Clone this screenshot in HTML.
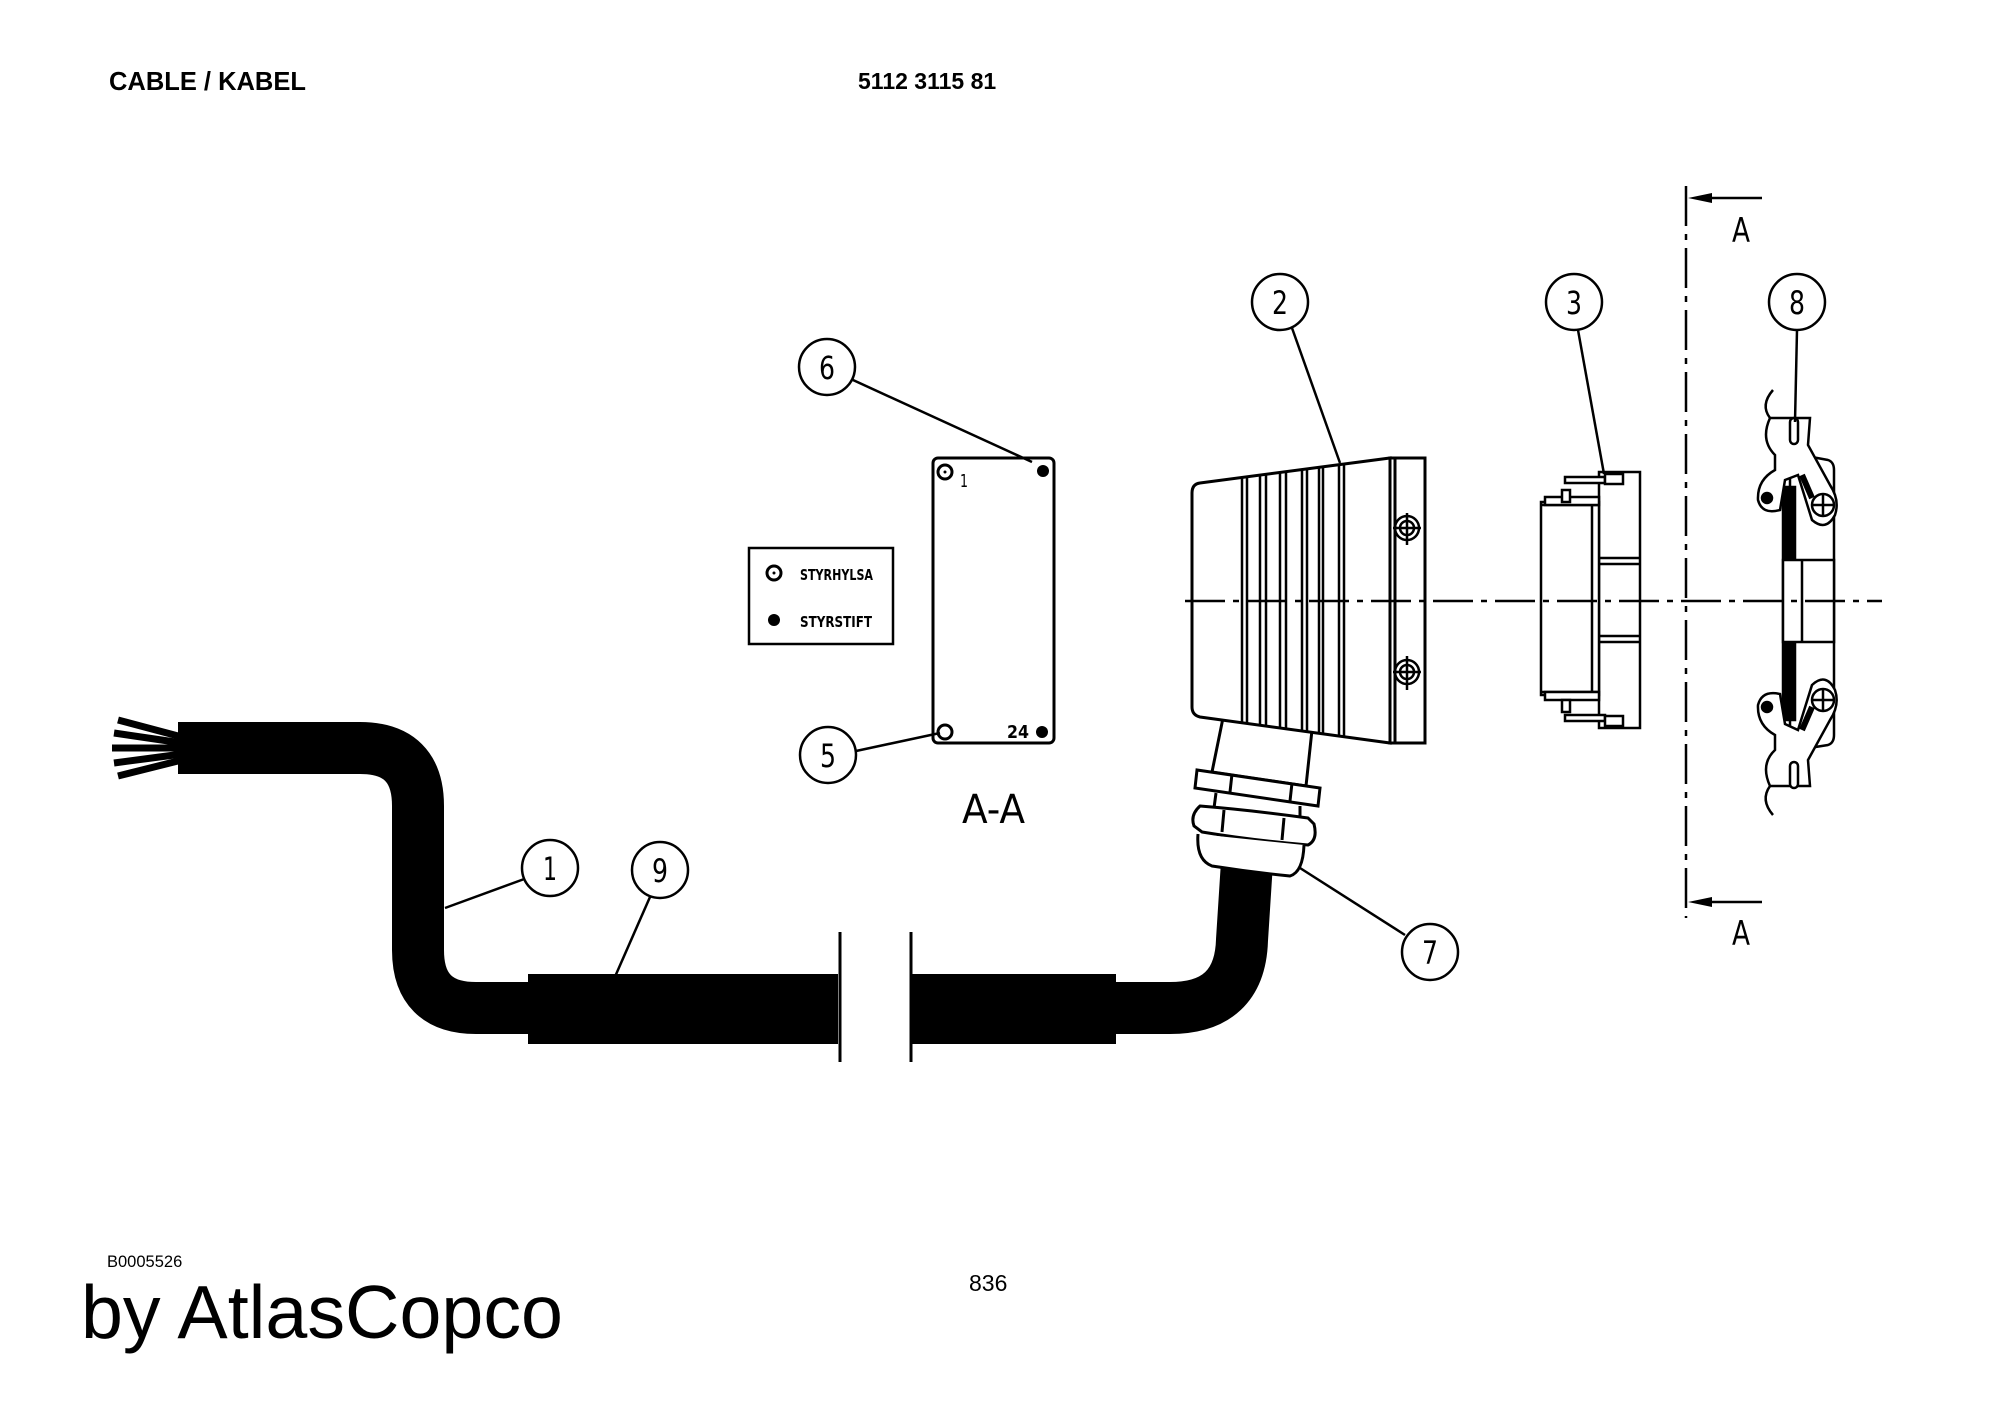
<!DOCTYPE html>
<html><head><meta charset="utf-8"><style>
html,body{margin:0;padding:0;background:#fff}
svg{display:block}
text{font-family:"Liberation Sans",sans-serif;fill:#000}
.n{font-family:"DejaVu Sans Condensed","DejaVu Sans","Liberation Sans",sans-serif}
</style></head><body>
<svg width="2000" height="1415" viewBox="0 0 2000 1415" xmlns="http://www.w3.org/2000/svg">
<rect width="2000" height="1415" fill="#fff"/>
<text x="109" y="90" font-size="25.5" font-weight="bold">CABLE / KABEL</text>
<text x="858" y="89" font-size="23" font-weight="bold">5112 3115 81</text>
<text x="107" y="1267" font-size="16.5">B0005526</text>
<text x="969" y="1291" font-size="23">836</text>
<text x="81" y="1338" font-size="75" textLength="482" lengthAdjust="spacingAndGlyphs">by AtlasCopco</text>

<g fill="none" stroke="#000">
<path d="M178 748 H360 Q418 748 418 806 V950 Q418 1008 476 1008 H540" stroke-width="52"/>
<g stroke-width="7">
<line x1="182" y1="737" x2="118" y2="720"/>
<line x1="182" y1="743" x2="114" y2="733"/>
<line x1="182" y1="748" x2="112" y2="748"/>
<line x1="182" y1="754" x2="114" y2="763"/>
<line x1="182" y1="760" x2="118" y2="776"/>
</g>
<rect x="528" y="974" width="310" height="70" fill="#000" stroke="none"/>
<rect x="911" y="974" width="205" height="70" fill="#000" stroke="none"/>
<line x1="840" y1="932" x2="840" y2="1062" stroke-width="3"/>
<line x1="911" y1="932" x2="911" y2="1062" stroke-width="3"/>
<path d="M1110 1008 H1170 Q1240 1008 1242 940 L1247 862" stroke-width="52"/>

<g stroke-width="3" fill="#fff">
<path d="M1223 718 L1212 772 L1306 786 L1312 730"/>
<path d="M1197 770 L1195 788 L1318 806 L1320 788 Z"/>
<line x1="1232" y1="774" x2="1230" y2="792"/><line x1="1292" y1="783" x2="1290" y2="801"/>
<path d="M1216 793 L1214 808 L1300 818 L1300 806"/>
<path d="M1200 806 Q1190 815 1194 826 L1202 832 Q1250 840 1308 845 Q1318 840 1314 824 L1308 818 Q1250 810 1200 806 Z"/>
<line x1="1224" y1="810" x2="1222" y2="832"/><line x1="1284" y1="818" x2="1282" y2="840"/>
<path d="M1198 834 Q1196 860 1212 866 Q1250 872 1290 876 Q1303 872 1304 845"/>
</g>

<g stroke-width="3" fill="#fff">
<path d="M1200 483 L1390 458 L1390 743 L1200 717 Q1192 715 1192 707 L1192 493 Q1192 484 1200 483 Z"/>
<rect x="1390" y="458" width="35" height="285"/>
<line x1="1395" y1="458" x2="1395" y2="743"/>
</g>
<g stroke-width="2.5">
<line x1="1242" y1="477" x2="1242" y2="723"/><line x1="1247" y1="476" x2="1247" y2="724"/>
<line x1="1260" y1="474" x2="1260" y2="726"/><line x1="1266" y1="473" x2="1266" y2="727"/>
<line x1="1280" y1="472" x2="1280" y2="728"/><line x1="1286" y1="471" x2="1286" y2="729"/>
<line x1="1302" y1="469" x2="1302" y2="731"/><line x1="1307" y1="469" x2="1307" y2="732"/>
<line x1="1319" y1="467" x2="1319" y2="733"/><line x1="1323" y1="467" x2="1323" y2="734"/>
<line x1="1339" y1="465" x2="1339" y2="736"/><line x1="1344" y1="464" x2="1344" y2="737"/>
</g>
<g stroke-width="2.5">
<circle cx="1407" cy="528" r="12"/><circle cx="1407" cy="528" r="7"/>
<line x1="1393" y1="528" x2="1421" y2="528"/><line x1="1407" y1="513" x2="1407" y2="545"/>
<circle cx="1407" cy="672" r="12"/><circle cx="1407" cy="672" r="7"/>
<line x1="1393" y1="672" x2="1421" y2="672"/><line x1="1407" y1="656" x2="1407" y2="690"/>
</g>

<g stroke-width="2.5" fill="#fff">
<rect x="1599" y="472" width="41" height="256"/>
<path d="M1541 502 H1599 V695 H1541 Z"/>
<line x1="1592" y1="502" x2="1592" y2="695"/>
<line x1="1541" y1="505" x2="1599" y2="505"/><line x1="1541" y1="692" x2="1599" y2="692"/>
<line x1="1599" y1="558" x2="1640" y2="558"/><line x1="1599" y1="564" x2="1640" y2="564"/>
<line x1="1599" y1="636" x2="1640" y2="636"/><line x1="1599" y1="642" x2="1640" y2="642"/>
<rect x="1545" y="497" width="54" height="8"/><rect x="1545" y="692" width="54" height="8"/>
<rect x="1565" y="477" width="40" height="6"/><rect x="1565" y="715" width="40" height="6"/>
<rect x="1562" y="490" width="8" height="12"/><rect x="1562" y="700" width="8" height="12"/>
<rect x="1605" y="474" width="18" height="10"/><rect x="1605" y="716" width="18" height="10"/>
</g>

<g stroke-width="2.5" fill="#fff">
<path d="M1790 453 L1828 460 Q1834 462 1834 470 V735 Q1834 743 1828 745 L1790 751 Z"/>
<rect x="1783" y="487" width="12" height="233" fill="#000"/>
<rect x="1783" y="560" width="51" height="82"/>
<line x1="1802" y1="560" x2="1802" y2="642"/>
<path d="M1770 418 Q1760 440 1775 455 L1775 470 Q1757 480 1758 500 Q1762 515 1780 510 L1785 480 L1798 475 L1812 520 Q1826 532 1835 515 Q1840 500 1830 485 L1808 445 L1810 418 Z"/>
<rect x="1790" y="418" width="8" height="26" rx="4"/>
<path d="M1802 475 L1812 498" stroke-width="6"/>
<circle cx="1823" cy="505" r="11"/><line x1="1812" y1="505" x2="1834" y2="505"/><line x1="1823" y1="494" x2="1823" y2="516"/>
<circle cx="1767" cy="498" r="5" fill="#000"/>
<path d="M1770 786 Q1760 764 1775 750 L1775 735 Q1757 725 1758 705 Q1762 690 1780 694 L1785 724 L1798 730 L1812 685 Q1826 672 1835 690 Q1840 705 1830 720 L1808 760 L1810 786 Z"/>
<rect x="1790" y="762" width="8" height="26" rx="4"/>
<path d="M1802 730 L1812 707" stroke-width="6"/>
<circle cx="1823" cy="700" r="11"/><line x1="1812" y1="700" x2="1834" y2="700"/><line x1="1823" y1="689" x2="1823" y2="711"/>
<circle cx="1767" cy="707" r="5" fill="#000"/>
</g>
<path d="M1773 390 Q1760 405 1770 418" stroke-width="2.5"/>
<path d="M1773 815 Q1760 800 1770 786" stroke-width="2.5"/>

<line x1="1185" y1="601" x2="1882" y2="601" stroke-width="2.5" stroke-dasharray="40,8,6,8"/>
<line x1="1686" y1="186" x2="1686" y2="918" stroke-width="2.5" stroke-dasharray="40,8,6,8"/>
<line x1="1700" y1="198" x2="1762" y2="198" stroke-width="2.5"/>
<line x1="1700" y1="902" x2="1762" y2="902" stroke-width="2.5"/>
</g>
<path d="M1688 198 L1712 193 L1712 203 Z" fill="#000"/>
<path d="M1688 902 L1712 897 L1712 907 Z" fill="#000"/>
<text class="n" x="1741" y="242" font-size="34" text-anchor="middle" textLength="18" lengthAdjust="spacingAndGlyphs">A</text>
<text class="n" x="1741" y="945" font-size="34" text-anchor="middle" textLength="18" lengthAdjust="spacingAndGlyphs">A</text>

<g fill="none" stroke="#000" stroke-width="3">
<rect x="933" y="458" width="121" height="285" rx="5"/>
<rect x="749" y="548" width="144" height="96" stroke-width="2.5"/>
<circle cx="945" cy="472" r="7"/><circle cx="945" cy="732" r="7"/>
<circle cx="774" cy="573" r="7"/>
</g>
<circle cx="945" cy="472" r="1.5"/><circle cx="774" cy="573" r="1.5"/>
<circle cx="1043" cy="471" r="6"/><circle cx="1042" cy="732" r="6"/>
<circle cx="774" cy="620" r="6"/>
<text class="n" x="960" y="487" font-size="18" textLength="8" lengthAdjust="spacingAndGlyphs">1</text>
<text class="n" x="1007" y="738" font-size="18" font-weight="bold" textLength="22" lengthAdjust="spacingAndGlyphs">24</text>
<text class="n" x="800" y="580" font-size="15" font-weight="bold" textLength="73" lengthAdjust="spacingAndGlyphs">STYRHYLSA</text>
<text class="n" x="800" y="627" font-size="15" font-weight="bold" textLength="72" lengthAdjust="spacingAndGlyphs">STYRSTIFT</text>
<text class="n" x="962" y="823" font-size="40" textLength="63" lengthAdjust="spacingAndGlyphs">A-A</text>

<g fill="none" stroke="#000" stroke-width="2.5">
<line x1="527" y1="878" x2="445" y2="908"/>
<line x1="650" y1="897" x2="614" y2="979"/>
<line x1="856" y1="751" x2="940" y2="733"/>
<line x1="853" y1="380" x2="1032" y2="462"/>
<line x1="1405" y1="935" x2="1300" y2="868"/>
<line x1="1292" y1="328" x2="1340" y2="463"/>
<line x1="1578" y1="330" x2="1604" y2="474"/>
<line x1="1797" y1="330" x2="1795" y2="422"/>
<circle cx="550" cy="868" r="28" fill="#fff"/>
<circle cx="660" cy="870" r="28" fill="#fff"/>
<circle cx="828" cy="755" r="28" fill="#fff"/>
<circle cx="827" cy="367" r="28" fill="#fff"/>
<circle cx="1430" cy="952" r="28" fill="#fff"/>
<circle cx="1280" cy="302" r="28" fill="#fff"/>
<circle cx="1574" cy="302" r="28" fill="#fff"/>
<circle cx="1797" cy="302" r="28" fill="#fff"/>
</g>
<g font-size="32" text-anchor="middle">
<text class="n" x="550" y="880" textLength="14" lengthAdjust="spacingAndGlyphs">1</text>
<text class="n" x="660" y="882" textLength="16" lengthAdjust="spacingAndGlyphs">9</text>
<text class="n" x="828" y="767" textLength="16" lengthAdjust="spacingAndGlyphs">5</text>
<text class="n" x="827" y="379" textLength="16" lengthAdjust="spacingAndGlyphs">6</text>
<text class="n" x="1430" y="964" textLength="16" lengthAdjust="spacingAndGlyphs">7</text>
<text class="n" x="1280" y="314" textLength="16" lengthAdjust="spacingAndGlyphs">2</text>
<text class="n" x="1574" y="314" textLength="16" lengthAdjust="spacingAndGlyphs">3</text>
<text class="n" x="1797" y="314" textLength="16" lengthAdjust="spacingAndGlyphs">8</text>
</g>
</svg>
</body></html>
